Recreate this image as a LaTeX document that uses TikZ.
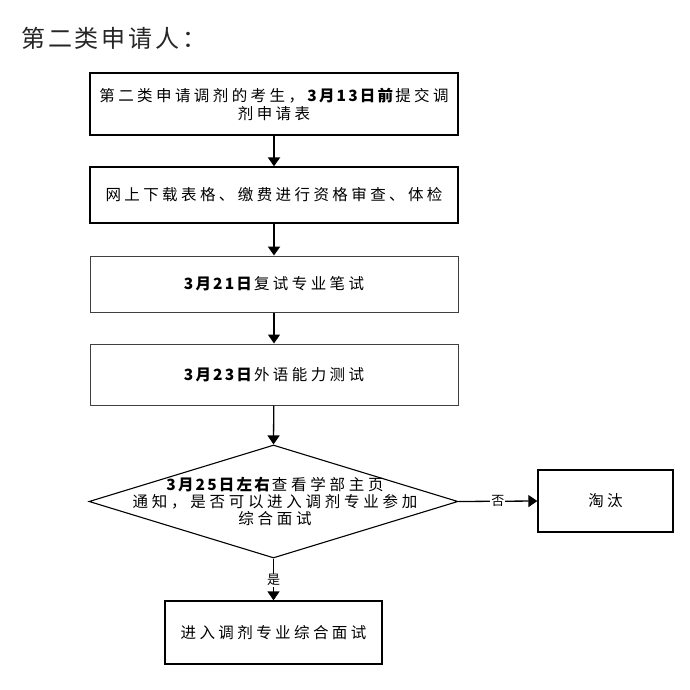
\documentclass[tikz,border=0pt]{standalone}
\usepackage{fontspec}
\usetikzlibrary{shapes.geometric,arrows.meta}
\newfontfamily\cjkbox[LetterSpace=22, BoldFeatures={LetterSpace=14}]{Noto Sans CJK SC}
\newfontfamily\cjkdia[LetterSpace=24, BoldFeatures={LetterSpace=14}]{Noto Sans CJK SC}
\newfontfamily\cjktitle[LetterSpace=12]{Noto Sans CJK SC}
\newfontfamily\cjklab{Noto Sans CJK SC}
\begin{document}
\begin{tikzpicture}[x=1pt,y=-1pt,
  stepbox/.style={draw, line width=1.3pt, text width=368pt, inner xsep=0pt, inner ysep=0pt, align=center, font=\cjkbox\fontsize{15.5pt}{18pt}\selectfont},
  thinbox/.style={stepbox, line width=1pt, draw=black!75},
  decide/.style={draw, diamond, line width=1.1pt, minimum width=369pt, minimum height=113pt, inner sep=0pt},
  thick arrow/.style={line width=2pt, -{Triangle[length=9pt,width=12pt]}},
  thin arrow/.style={line width=1.3pt, -{Triangle[length=9pt,width=12pt]}},
  lab/.style={font=\cjklab\fontsize{13pt}{15pt}\selectfont, fill=white, inner sep=1pt}
]
\useasboundingbox (0,0) rectangle (689,690);
\node[anchor=west, font=\cjktitle\fontsize{24pt}{26pt}\selectfont, text=black!85, inner sep=0pt] (title) at (21,38) {第二类申请人：};

\node[stepbox, minimum height=62pt] (b1) at (274,104) {第二类申请调剂的考生，\textbf{3月13日前}提交调\\剂申请表};
\node[stepbox, minimum height=56pt] (b2) at (274,195) {网上下载表格、缴费进行资格审查、体检};
\node[thinbox, minimum height=56pt] (b3) at (274,284) {\textbf{3月21日}复试专业笔试};
\node[thinbox, minimum height=61pt] (b4) at (274,374.5) {\textbf{3月23日}外语能力测试};

\node[decide] (d) at (273.5,501.5) {};
\node[align=center, inner sep=0pt, font=\cjkdia\fontsize{15.5pt}{17pt}\selectfont] (dt) at (275,501) {\textbf{3月25日左右}查看学部主页\\通知，是否可以进入调剂专业参加\\综合面试};

\node[draw, line width=1.3pt, minimum width=135pt, minimum height=62pt, inner sep=0pt, font=\cjkbox\fontsize{15.5pt}{18pt}\selectfont] (out) at (605.5,501) {淘汰};
\node[draw, line width=1.3pt, minimum width=217pt, minimum height=63pt, inner sep=0pt, font=\cjkbox\fontsize{15.5pt}{18pt}\selectfont] (fin) at (273.5,632.5) {进入调剂专业综合面试};

\draw[thick arrow] (b1) -- (b2);
\draw[thick arrow] (b2) -- (b3);
\draw[thin arrow] (b3) -- (b4);
\draw[thin arrow] (b4) -- (d.north);
\draw[thin arrow] (d.east) -- node[lab, pos=0.5] {否} (out.west);
\draw[thin arrow] (d.south) -- node[lab, pos=0.52] {是} (fin.north);
\end{tikzpicture}
\end{document}
